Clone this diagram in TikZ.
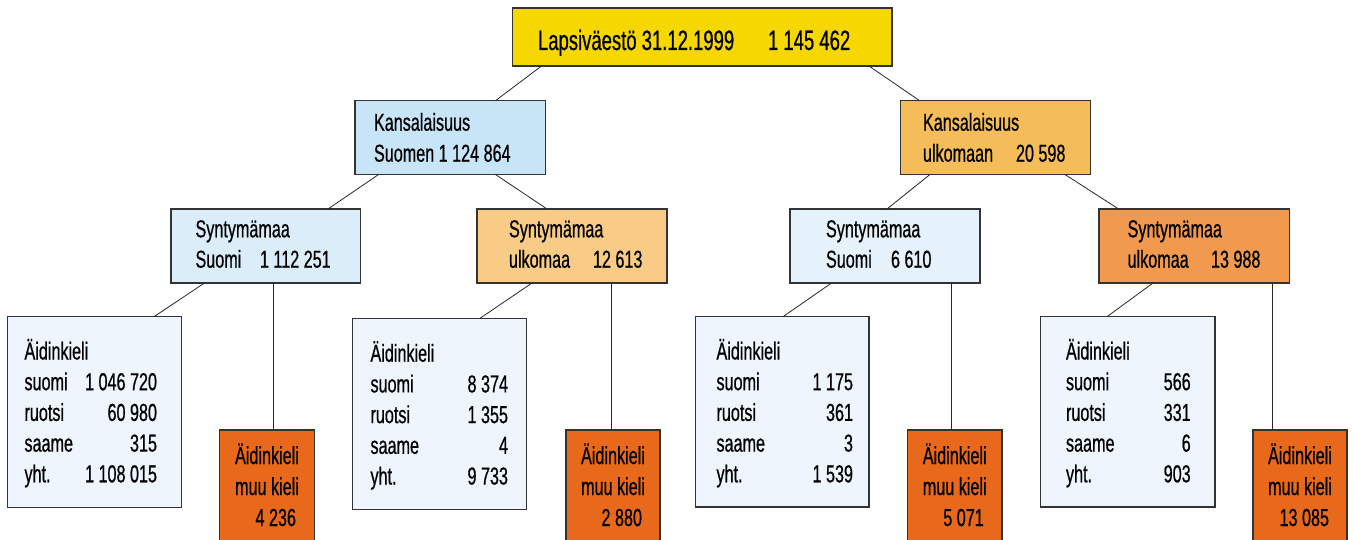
\documentclass[tikz,border=0pt]{standalone}
\usepackage{fontspec}
\setmainfont{Liberation Sans}[FakeStretch=0.66,FakeBold=0.6]
\definecolor{rootyellow}{HTML}{F6D800}
\definecolor{kansblue}{HTML}{C8E4F7}
\definecolor{synAblue}{HTML}{DCEDFA}
\definecolor{synCblue}{HTML}{E6F2FB}
\definecolor{aidblue}{HTML}{EEF5FC}
\definecolor{synBorange}{HTML}{F8CC87}
\definecolor{kansorange}{HTML}{F5BD59}
\definecolor{synDorange}{HTML}{F0994F}
\definecolor{boxorange}{HTML}{E8691B}
\tikzset{
  box/.style={rectangle,draw=black!80,line width=1.1pt,inner sep=0pt,outer sep=0pt,anchor=north west},
  conn/.style={draw=black!85,line width=0.8pt},
  txt/.style={inner sep=0pt,outer sep=0pt,font=\fontsize{24.5}{29}\selectfont},
  bigtxt/.style={inner sep=0pt,outer sep=0pt,font=\fontsize{28}{32}\selectfont},
}
\newcommand{\mkbox}[6]{\node[box,fill=#6,minimum width={#4-#2},minimum height={#5-#3}] (#1) at (#2,#3) {};}
\newcommand{\aidrows}[8]{%
  \node[txt,anchor=base west] (#1-h) at (#2,#4) {Äidinkieli};
  \node[txt,anchor=base west] (#1-a) at (#2,#4+30.7) {suomi};
  \node[txt,anchor=base east] (#1-an) at (#3,#4+30.7) {#5};
  \node[txt,anchor=base west] (#1-b) at (#2,#4+61.4) {ruotsi};
  \node[txt,anchor=base east] (#1-bn) at (#3,#4+61.4) {#6};
  \node[txt,anchor=base west] (#1-c) at (#2,#4+92.1) {saame};
  \node[txt,anchor=base east] (#1-cn) at (#3,#4+92.1) {#7};
  \node[txt,anchor=base west] (#1-d) at (#2,#4+122.8) {yht.};
  \node[txt,anchor=base east] (#1-dn) at (#3,#4+122.8) {#8};
}
\newcommand{\orangetext}[3]{%
  \node[txt,anchor=base] (#1-h) at (#2,464) {Äidinkieli};
  \node[txt,anchor=base] (#1-m) at (#2,495) {muu kieli};
  \node[txt,anchor=base east] (#1-n) at (#2+29,526) {#3};
}
\begin{document}
\begin{tikzpicture}[x=1pt,y=-1pt]
\useasboundingbox (0,0) rectangle (1353,540);
\clip (0,0) rectangle (1353,540);
% boxes
\mkbox{root}{512.5}{8}{892}{66}{rootyellow}
\mkbox{kans1}{355}{100.7}{545.5}{174.5}{kansblue}
\mkbox{kans2}{900.6}{100.7}{1090.7}{174.5}{kansorange}
\mkbox{synA}{171}{209}{360.7}{283}{synAblue}
\mkbox{synB}{477}{209}{667}{283}{synBorange}
\mkbox{synC}{790}{209}{980}{283}{synCblue}
\mkbox{synD}{1099}{209}{1289.4}{283}{synDorange}
\mkbox{aid1}{7.6}{316.7}{181.7}{507.3}{aidblue}
\mkbox{aid2}{352.7}{318.3}{526.8}{509.3}{aidblue}
\mkbox{aid3}{695.5}{316.7}{869}{507}{aidblue}
\mkbox{aid4}{1040.5}{316.7}{1215}{507}{aidblue}
\mkbox{or1}{219.6}{430}{314.3}{548}{boxorange}
\mkbox{or2}{566}{430}{660}{548}{boxorange}
\mkbox{or3}{907.5}{430}{1002}{548}{boxorange}
\mkbox{or4}{1253}{430}{1347}{548}{boxorange}
% connectors
\draw[conn] ([xshift=29pt]root.south west) -- ([xshift=140.5pt]kans1.north west);
\draw[conn] ([xshift=356.5pt]root.south west) -- ([xshift=19pt]kans2.north west);
\draw[conn] ([xshift=23.6pt]kans1.south west) -- ([xshift=157pt]synA.north west);
\draw[conn] ([xshift=140.5pt]kans1.south west) -- ([xshift=70pt]synB.north west);
\draw[conn] ([xshift=29.4pt]kans2.south west) -- ([xshift=97pt]synC.north west);
\draw[conn] ([xshift=164.4pt]kans2.south west) -- ([xshift=19.6pt]synD.north west);
\draw[conn] ([xshift=33.5pt]synA.south west) -- ([xshift=146.4pt]aid1.north west);
\draw[conn] ([xshift=55pt]synB.south west) -- ([xshift=127.3pt]aid2.north west);
\draw[conn] ([xshift=41.5pt]synC.south west) -- ([xshift=87.5pt]aid3.north west);
\draw[conn] ([xshift=54pt]synD.south west) -- ([xshift=66.5pt]aid4.north west);
\draw[conn] ([xshift=53.4pt]or1.north west) -- ([xshift=53.4pt]or1.north west |- synA.south);
\draw[conn] ([xshift=45.6pt]or2.north west) -- ([xshift=45.6pt]or2.north west |- synB.south);
\draw[conn] ([xshift=43.5pt]or3.north west) -- ([xshift=43.5pt]or3.north west |- synC.south);
\draw[conn] ([xshift=19pt]or4.north west) -- ([xshift=19pt]or4.north west |- synD.south);
% texts
\node[bigtxt,anchor=base west] (rootA) at (538,50) {Lapsiväestö 31.12.1999};
\node[bigtxt,anchor=base west] (rootB) at (768,50) {1 145 462};
\node[txt,anchor=base west] (k1a) at (374,130.7) {Kansalaisuus};
\node[txt,anchor=base west] (k1b) at (374,161.7) {Suomen 1 124 864};
\node[txt,anchor=base west] (k2a) at (923,130.7) {Kansalaisuus};
\node[txt,anchor=base west] (k2b) at (923,161.7) {ulkomaan};
\node[txt,anchor=base west] (k2c) at (1016,161.7) {20 598};
\node[txt,anchor=base west] (sAa) at (195.5,237.3) {Syntymämaa};
\node[txt,anchor=base west] (sAb) at (195.5,267.7) {Suomi};
\node[txt,anchor=base west] (sAc) at (260,267.7) {1 112 251};
\node[txt,anchor=base west] (sBa) at (509,237.3) {Syntymämaa};
\node[txt,anchor=base west] (sBb) at (509,267.7) {ulkomaa};
\node[txt,anchor=base west] (sBc) at (593,267.7) {12 613};
\node[txt,anchor=base west] (sCa) at (826,237.3) {Syntymämaa};
\node[txt,anchor=base west] (sCb) at (826,267.7) {Suomi};
\node[txt,anchor=base west] (sCc) at (891,267.7) {6 610};
\node[txt,anchor=base west] (sDa) at (1127.6,237.3) {Syntymämaa};
\node[txt,anchor=base west] (sDb) at (1127.6,267.7) {ulkomaa};
\node[txt,anchor=base west] (sDc) at (1211,267.7) {13 988};
\aidrows{ta1}{24.5}{157}{359.5}{1 046 720}{60 980}{315}{1 108 015}
\aidrows{ta2}{370.5}{508}{361.7}{8 374}{1 355}{4}{9 733}
\aidrows{ta3}{716.5}{853}{359.5}{1 175}{361}{3}{1 539}
\aidrows{ta4}{1066}{1190.7}{359.5}{566}{331}{6}{903}
\orangetext{to1}{267}{4 236}
\orangetext{to2}{613}{2 880}
\orangetext{to3}{954.75}{5 071}
\orangetext{to4}{1300}{13 085}
\end{tikzpicture}
\end{document}
